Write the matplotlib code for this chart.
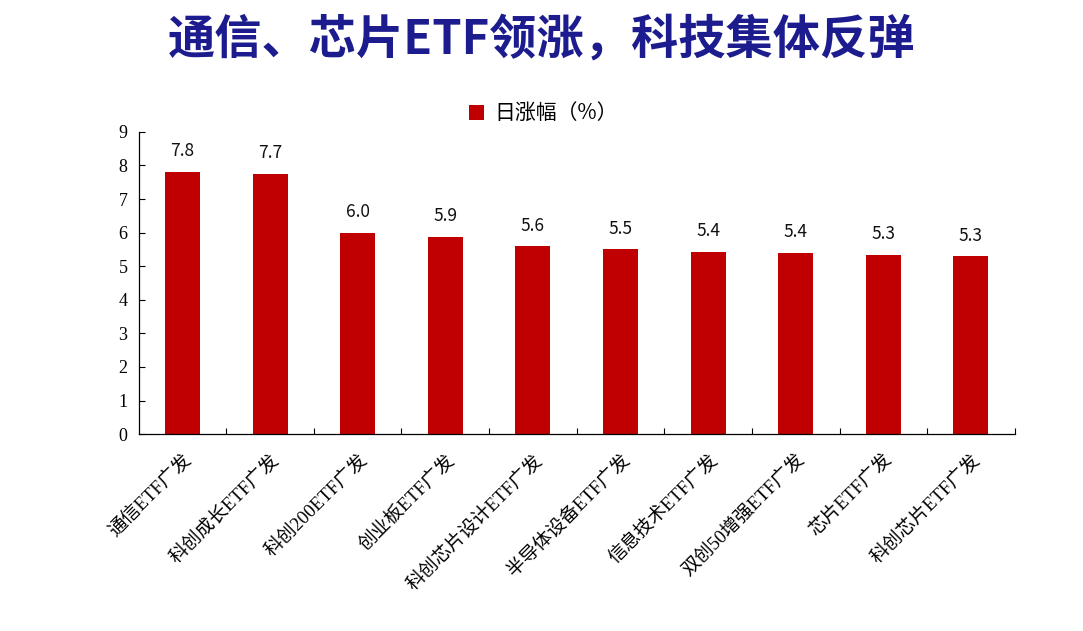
import matplotlib
matplotlib.use('Agg')
import matplotlib.pyplot as plt
import numpy as np

# data
categories = ['通信ETF广发', '科创成长ETF广发', '科创200ETF广发', '创业板ETF广发',
              '科创芯片设计ETF广发', '半导体设备ETF广发', '信息技术ETF广发',
              '双创50增强ETF广发', '芯片ETF广发', '科创芯片ETF广发']
daily_gain = [7.80, 7.74, 5.99, 5.88, 5.59, 5.50, 5.42, 5.39, 5.34, 5.29]
y_ticks = list(range(0, 10))

title = '通信、芯片ETF领涨，科技集体反弹'
series_name = '日涨幅（%）'

cjk = ['Noto Sans CJK SC', 'DejaVu Sans']
serif_cjk = ['Liberation Serif', 'Noto Sans CJK SC']
bar_color = '#C00000'

fig = plt.figure(figsize=(10.83, 6.31), dpi=100)
ax = fig.add_axes([0.128, 0.312, 0.809, 0.479])

x = np.arange(len(categories))
bars = ax.bar(x, daily_gain, width=0.4, color=bar_color, label=series_name)

# value labels above bars
for xi, v in zip(x, daily_gain):
    ax.text(xi, v + 0.35, f'{v:.1f}', ha='center', va='bottom',
            fontsize=12.5, family=cjk, color='#111111')

ax.set_xlim(-0.5, len(categories) - 0.5)
ax.set_ylim(0, 9)
ax.set_yticks(y_ticks)
ax.set_yticklabels([str(t) for t in y_ticks], family='Liberation Serif', fontsize=13)

# ticks between categories on x axis
ax.set_xticks(x)
ax.set_xticklabels(categories, rotation=45, ha='right', rotation_mode='anchor',
                   family=serif_cjk, fontsize=13.5)
ax.tick_params(axis='x', which='major', length=0, pad=12)
ax.set_xticks(np.arange(0.5, len(categories), 1.0), minor=True)
ax.tick_params(axis='x', which='minor', direction='in', length=4, width=0.8)
ax.tick_params(axis='y', direction='in', length=4, width=0.8, pad=8)

for side in ['top', 'right']:
    ax.spines[side].set_visible(False)
ax.spines['left'].set_linewidth(0.9)
ax.spines['bottom'].set_linewidth(0.9)

leg = ax.legend(loc='center', bbox_to_anchor=(0.462, 1.06), frameon=False,
                prop={'family': cjk, 'size': 15}, handlelength=0.7,
                handleheight=0.7, handletextpad=0.5)

fig.text(0.5, 0.937, title, ha='center', va='center', fontsize=34,
         fontweight='bold', color='#1C1C8E', family=cjk)

fig.savefig('out.png', dpi=100)
